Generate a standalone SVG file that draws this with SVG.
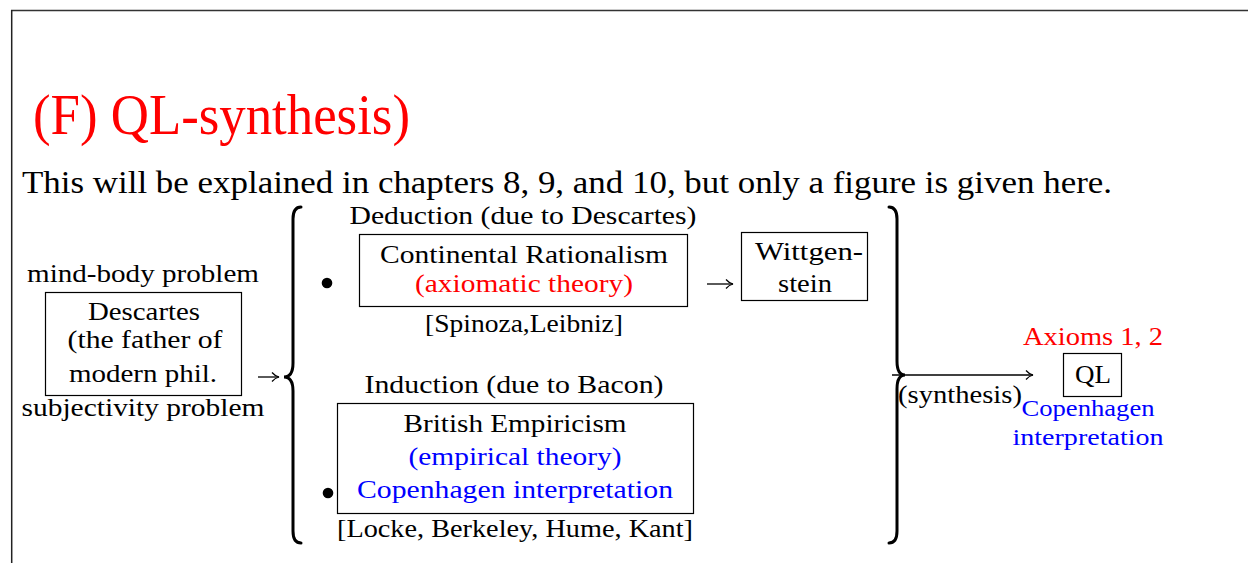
<svg xmlns="http://www.w3.org/2000/svg" width="1248" height="563" viewBox="0 0 1248 563" font-family="'Liberation Serif', 'DejaVu Serif', serif">
<style>
text{font-family:'Liberation Serif','DejaVu Serif',serif;fill:#000}
.t{font-size:26px;text-anchor:middle}
.s{font-size:23px;text-anchor:middle}
.red{fill:#ff0000}
.blue{fill:#0000ff}
.box{fill:none;stroke:#000;stroke-width:1.2}
.brace{fill:none;stroke:#000;stroke-width:3;stroke-linecap:round}
.conn{fill:none;stroke:#000;stroke-width:1.3}
</style>
<defs>
<marker id="ah" markerWidth="12" markerHeight="12" refX="10" refY="6" orient="auto" markerUnits="userSpaceOnUse">
<path d="M3,1.5 Q6,5 10,6 Q6,7 3,10.5" fill="none" stroke="#000" stroke-width="1.2"/>
</marker>
</defs>
<rect width="1248" height="563" fill="#fff"/>
<g id="frame">
<line x1="11" y1="10.5" x2="1248" y2="10.5" stroke="#333" stroke-width="1.5"/>
<line x1="11.7" y1="10" x2="11.7" y2="563" stroke="#222" stroke-width="1.5"/>
</g>
<g id="heading">
<text x="33" y="134" font-size="57" class="red" textLength="377" lengthAdjust="spacingAndGlyphs">(F) QL-synthesis)</text>
<text x="22" y="193" font-size="31" textLength="1090" lengthAdjust="spacingAndGlyphs">This will be explained in chapters 8, 9, and 10, but only a figure is given here.</text>
</g>
<g id="descartes">
<text class="t" x="143" y="282" textLength="232" lengthAdjust="spacingAndGlyphs">mind-body problem</text>
<rect class="box" x="45.5" y="292.5" width="196" height="103"/>
<text class="t" x="144" y="320" textLength="112" lengthAdjust="spacingAndGlyphs">Descartes</text>
<text class="t" x="145" y="348" textLength="155" lengthAdjust="spacingAndGlyphs">(the father of</text>
<text class="t" x="143" y="382" textLength="148" lengthAdjust="spacingAndGlyphs">modern phil.</text>
<text class="t" x="143" y="416" textLength="243" lengthAdjust="spacingAndGlyphs">subjectivity problem</text>
</g>
<g id="rationalism">
<circle cx="327" cy="283" r="5.3"/>
<text class="t" x="523" y="224" textLength="347" lengthAdjust="spacingAndGlyphs">Deduction (due to Descartes)</text>
<rect class="box" x="359.5" y="234.5" width="328" height="72"/>
<text class="t" x="524" y="263" textLength="288" lengthAdjust="spacingAndGlyphs">Continental Rationalism</text>
<text class="t red" x="524" y="292" textLength="218" lengthAdjust="spacingAndGlyphs">(axiomatic theory)</text>
<text class="t" x="524" y="332" textLength="198" lengthAdjust="spacingAndGlyphs">[Spinoza,Leibniz]</text>
</g>
<g id="wittgenstein">
<rect class="box" x="741.5" y="232.5" width="126" height="68"/>
<text class="t" x="809" y="260" textLength="108" lengthAdjust="spacingAndGlyphs">Wittgen-</text>
<text class="t" x="805" y="292" textLength="54" lengthAdjust="spacingAndGlyphs">stein</text>
</g>
<g id="empiricism">
<circle cx="328" cy="493" r="5.3"/>
<text class="t" x="514" y="393" textLength="299" lengthAdjust="spacingAndGlyphs">Induction (due to Bacon)</text>
<rect class="box" x="337.5" y="403.5" width="356" height="110"/>
<text class="t" x="515" y="432" textLength="223" lengthAdjust="spacingAndGlyphs">British Empiricism</text>
<text class="t blue" x="515" y="465" textLength="213" lengthAdjust="spacingAndGlyphs">(empirical theory)</text>
<text class="t blue" x="515" y="498" textLength="316" lengthAdjust="spacingAndGlyphs">Copenhagen interpretation</text>
<text class="t" x="515" y="537" textLength="356" lengthAdjust="spacingAndGlyphs">[Locke, Berkeley, Hume, Kant]</text>
</g>
<g id="ql">
<text class="t red" x="1093" y="345" textLength="140" lengthAdjust="spacingAndGlyphs">Axioms 1, 2</text>
<rect class="box" x="1063.5" y="353.5" width="58" height="43"/>
<text class="t" x="1093" y="383" textLength="36" lengthAdjust="spacingAndGlyphs">QL</text>
<text class="s blue" x="1088" y="416" textLength="133" lengthAdjust="spacingAndGlyphs">Copenhagen</text>
<text class="s blue" x="1088" y="445" textLength="151" lengthAdjust="spacingAndGlyphs">interpretation</text>
</g>
<g id="connectors">
<line class="conn" x1="258" y1="377" x2="279" y2="377" marker-end="url(#ah)"/>
<path class="brace" d="M301,207 Q293,207 293,219 L293,363 Q293,377 284,377 Q293,377 293,391 L293,531 Q293,543 301,543"/>
<line class="conn" x1="707" y1="284" x2="733" y2="284" marker-end="url(#ah)"/>
<path class="brace" d="M889,207 Q897,207 897,219 L897,361 Q897,375 905,375 Q897,375 897,389 L897,531 Q897,543 889,543"/>
<line class="conn" x1="892" y1="375" x2="1033" y2="375" marker-end="url(#ah)"/>
<text class="t" x="960" y="403" textLength="124" lengthAdjust="spacingAndGlyphs">(synthesis)</text>
</g>
</svg>
